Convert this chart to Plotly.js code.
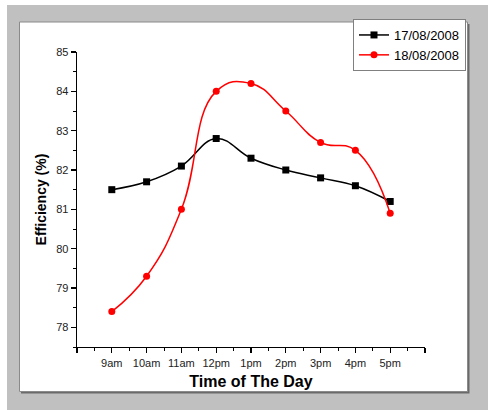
<!DOCTYPE html>
<html>
<head>
<meta charset="utf-8">
<script src="https://cdn.plot.ly/plotly-3.0.1.min.js"></script>
<style>html,body{margin:0;padding:0;background:#fff;}#chart{width:488px;height:410px;}</style>
</head>
<body>
<div id="chart"></div>
<script>
var timeLabels = ['9am','10am','11am','12pm','1pm','2pm','3pm','4pm','5pm'];
var series1Name = '17/08/2008';
var series1 = [81.5, 81.7, 82.1, 82.8, 82.3, 82.0, 81.8, 81.6, 81.2];
var series2Name = '18/08/2008';
var series2 = [78.4, 79.3, 81.0, 84.0, 84.2, 83.5, 82.7, 82.5, 80.9];
var xIndex = timeLabels.map(function(_, i){ return i; });

var W = 488, H = 410, L = 77, R = 63, T = 52, B = 63;
var pw = W - L - R, ph = H - T - B;
function px(x){ return (x - L) / pw; }
function py(y){ return (H - B - y) / ph; }
function rect(x0, y0, x1, y1, fill, line, lw){
  return {type:'rect', xref:'paper', yref:'paper', layer:'below',
    x0:px(x0), x1:px(x1), y0:py(y1), y1:py(y0),
    fillcolor:fill, line:{color:line||fill, width:lw||0}};
}

var tv = [-1].concat(xIndex).concat([9]);
var tt = [''].concat(timeLabels).concat(['']);

var traces = [
  {x:xIndex, y:series1, name:series1Name, type:'scatter', mode:'lines+markers',
   line:{shape:'spline', smoothing:1.2, color:'#000000', width:1.5},
   marker:{symbol:'square', size:7, color:'#000000'}},
  {x:xIndex, y:series2, name:series2Name, type:'scatter', mode:'lines+markers',
   line:{shape:'spline', smoothing:1.3, color:'#ff0000', width:1.5},
   marker:{symbol:'circle', size:7, color:'#ff0000'}}
];

var layout = {
  width:W, height:H,
  margin:{l:L, r:R, t:T, b:B, pad:0},
  paper_bgcolor:'#ffffff',
  plot_bgcolor:'rgba(0,0,0,0)',
  font:{family:'"Liberation Sans", Arial, sans-serif', color:'#000'},
  showlegend:true,
  legend:{x:px(466), y:py(19), xanchor:'right', yanchor:'top',
    bgcolor:'#ffffff', bordercolor:'#808080', borderwidth:1,
    font:{size:13, color:'#000'}, itemwidth:30, tracegroupgap:0},
  xaxis:{range:[-1, 9], tickmode:'array', tickvals:tv, ticktext:tt,
    showgrid:false, zeroline:false, showline:true, linecolor:'#000', linewidth:1.3,
    ticks:'outside', ticklen:5, tickwidth:1.3, tickcolor:'#000',
    tickfont:{size:11, color:'#222'},
    minor:{tickmode:'linear', tick0:-1, dtick:0.5, ticks:'outside', ticklen:3, tickwidth:1, tickcolor:'#000', showgrid:false},
    title:{text:'<b>Time of The Day</b>', font:{size:16, color:'#000'}, standoff:8}},
  yaxis:{range:[77.5, 85], tickmode:'linear', tick0:78, dtick:1,
    showgrid:false, zeroline:false, showline:true, linecolor:'#000', linewidth:1.3,
    ticks:'outside', ticklen:5, tickwidth:1.3, tickcolor:'#000',
    tickfont:{size:11, color:'#222'},
    minor:{tickmode:'linear', tick0:77.5, dtick:0.5, ticks:'outside', ticklen:3, tickwidth:1, tickcolor:'#000', showgrid:false},
    title:{text:'<b>Efficiency (%)</b>', font:{size:14, color:'#000'}, standoff:6}},
  shapes:[
    rect(7, 5, 488, 410, '#c0c0c0'),
    rect(21, 24, 469.5, 393.5, '#6a6a6a'),
    rect(19.5, 22, 467.5, 391.5, '#ffffff', '#8a8a8a', 1)
  ]
};

Plotly.newPlot('chart', traces, layout, {displayModeBar:false, staticPlot:true});
</script>
</body>
</html>
